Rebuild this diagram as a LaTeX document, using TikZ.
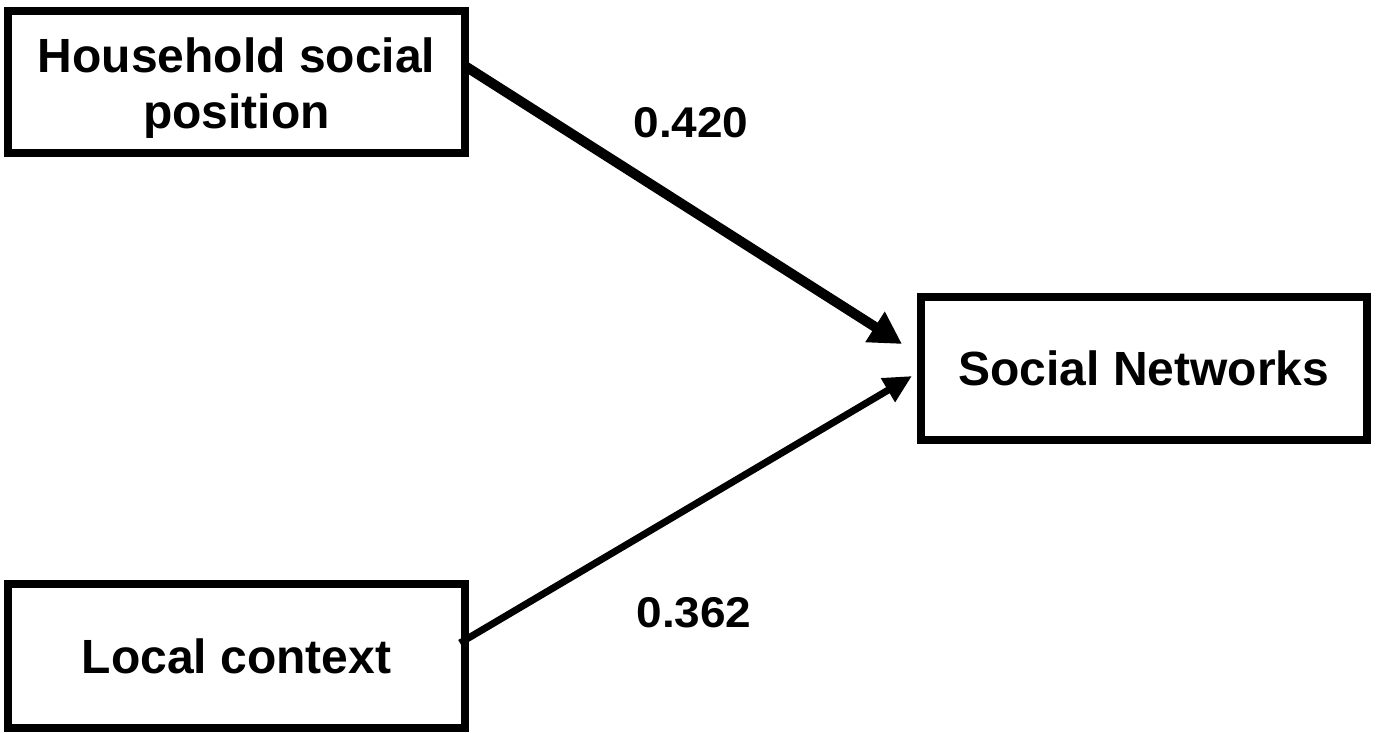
\documentclass[tikz,border=0pt]{standalone}
\usepackage{fontspec}
\setmainfont{Liberation Sans}
\usetikzlibrary{arrows.meta}
\tikzset{
  box/.style={draw=black, line width=8pt, fill=white, inner sep=0pt, align=center,
    font=\fontsize{48}{56}\selectfont\bfseries},
  coef/.style={anchor=base, inner sep=0pt, font=\fontsize{43}{48}\selectfont\bfseries},
  bigarrow/.style={line width=10pt, -{Triangle[length=32pt,width=34pt]}},
  smallarrow/.style={line width=7pt, -{Triangle[length=28pt,width=26pt]}}
}
\begin{document}
\begin{tikzpicture}[x=1pt,y=-1pt]
\useasboundingbox (0,0) rectangle (1385,732);
\node[box, minimum width=457pt, minimum height=142pt] (hh) at (236.5,82)
  {\raisebox{-7pt}[\height][\depth]{\begin{tabular}{@{}c@{}}Household social\\position\end{tabular}}};
\node[box, minimum width=446pt, minimum height=143pt] (sn) at (1144,368.5) {Social Networks};
\node[box, minimum width=457pt, minimum height=144pt] (lc) at (236.5,656) {Local context};
\coordinate (s1) at (465,66);
\coordinate (t1) at (902,344);
\coordinate (s2) at (460,643);
\coordinate (t2) at (912,376);
\draw[bigarrow] (s1) -- (t1);
\draw[smallarrow] (s2) -- (t2);
\node[coef] (c1) at (691,137) {\scalebox{1.07}[1]{0.420}};
\node[coef] (c2) at (694,627) {\scalebox{1.07}[1]{0.362}};
\end{tikzpicture}
\end{document}
